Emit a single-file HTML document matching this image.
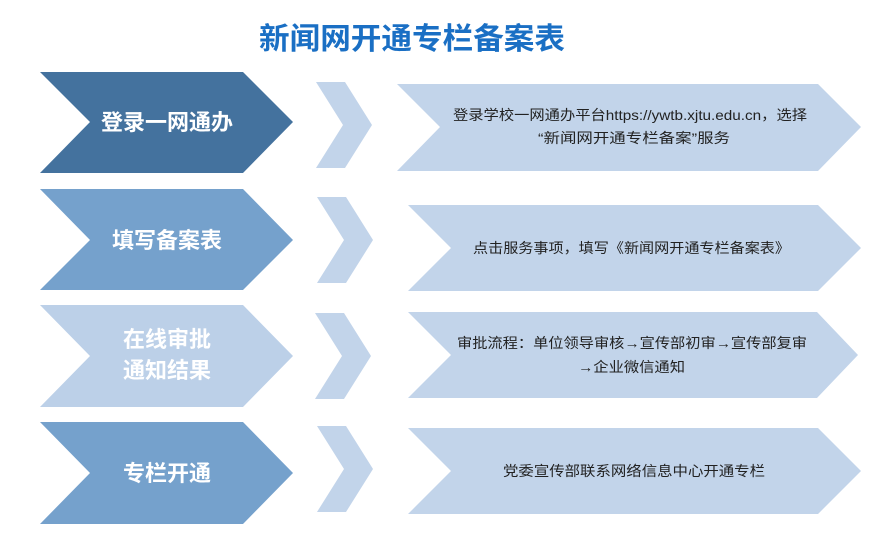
<!DOCTYPE html>
<html><head><meta charset="utf-8"><style>
html,body{margin:0;padding:0;background:#fff;width:896px;height:541px;overflow:hidden}
svg text{font-family:"Liberation Sans","Noto Sans CJK SC",sans-serif}
</style></head><body>
<svg width="896" height="541" viewBox="0 0 896 541" xmlns="http://www.w3.org/2000/svg">
<text x="259" y="49" textLength="306" lengthAdjust="spacingAndGlyphs" font-size="30" font-weight="bold" fill="#1a6fc4">新闻网开通专栏备案表</text>

<polygon points="40,72 243,72 293,122 243,173 40,173 90,122" fill="#44729e"/>
<polygon points="40,189 243,189 293,240 243,290 40,290 90,240" fill="#75a1cc"/>
<polygon points="40,305 243,305 293,356 243,407 40,407 90,356" fill="#bcd0e8"/>
<polygon points="40,422 243,422 293,473 243,524 40,524 90,473" fill="#75a1cc"/>

<g fill="#fff" font-weight="bold" font-size="22" text-anchor="middle">
<text x="167" y="130">登录一网通办</text>
<text x="167" y="248">填写备案表</text>
<text x="167" y="347">在线审批</text>
<text x="167" y="378">通知结果</text>
<text x="167" y="481">专栏开通</text>
</g>

<g fill="#c2d4ea">
<polygon points="316,82 345,82 372,125 345,168 316,168 343,125"/>
<polygon points="317,197 346,197 373,240 346,283 317,283 344,240"/>
<polygon points="315,313 344,313 371,356 344,399 315,399 342,356"/>
<polygon points="317,426 346,426 373,469 346,512 317,512 344,469"/>
<polygon points="397,84 818,84 861,127 818,171 397,171 440,127"/>
<polygon points="408,205 818,205 861,248 818,291 408,291 451,248"/>
<polygon points="408,312 817,312 858,355 817,398 408,398 451,355"/>
<polygon points="408,428 818,428 861,471 818,514 408,514 451,471"/>
</g>

<g fill="#222" font-size="14" lengthAdjust="spacingAndGlyphs">
<text x="453" y="120" textLength="354" lengthAdjust="spacingAndGlyphs">登录学校一网通办平台https://ywtb.xjtu.edu.cn，选择</text>
<text x="538" y="143" textLength="192" lengthAdjust="spacingAndGlyphs">“新闻网开通专栏备案”服务</text>
<text x="473" y="253" textLength="317" lengthAdjust="spacingAndGlyphs">点击服务事项，填写《新闻网开通专栏备案表》</text>
<text x="457" y="348" textLength="350" lengthAdjust="spacingAndGlyphs">审批流程：单位领导审核→宣传部初审→宣传部复审</text>
<text x="578" y="372" textLength="107" lengthAdjust="spacingAndGlyphs">→企业微信通知</text>
<text x="503" y="476" textLength="262" lengthAdjust="spacingAndGlyphs">党委宣传部联系网络信息中心开通专栏</text>
</g>
</svg>
</body></html>
